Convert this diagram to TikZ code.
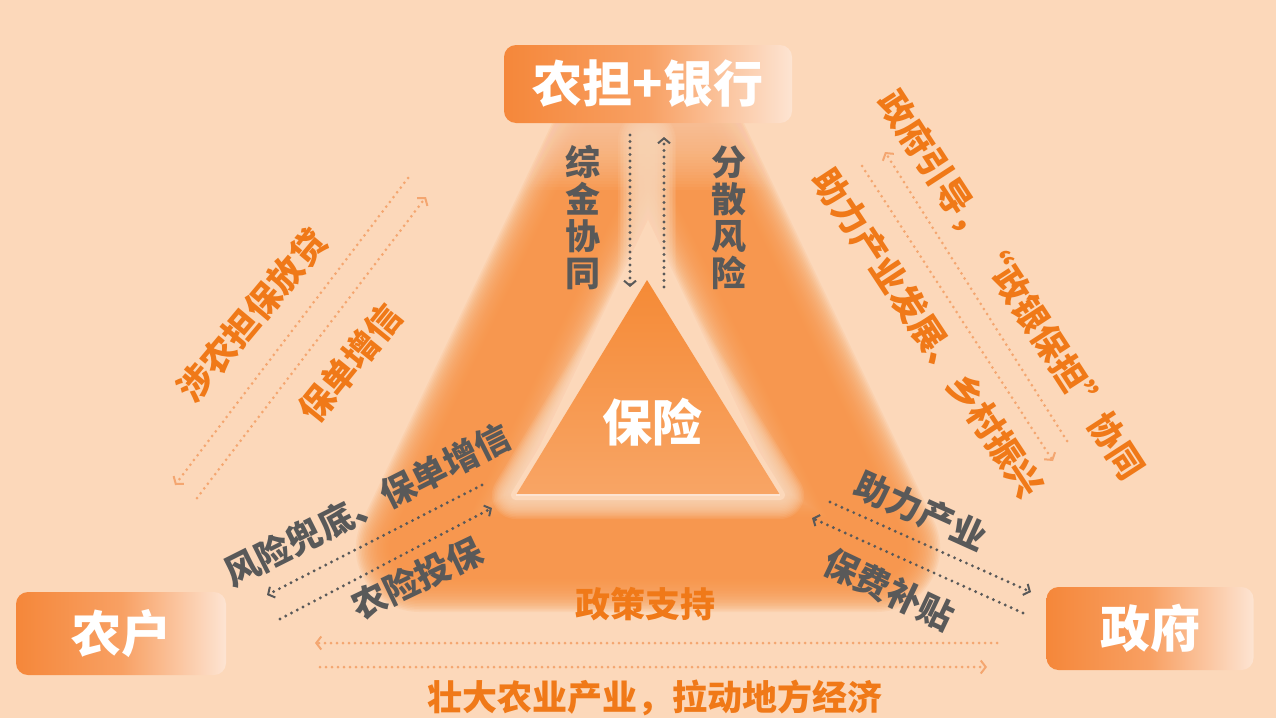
\documentclass[tikz,border=0pt]{standalone}
\usepackage{fontspec}
\newfontfamily\cjk{Noto Sans CJK SC}
\usetikzlibrary{arrows.meta}
\definecolor{bgc}{HTML}{FCD8BA}
\definecolor{bandc}{HTML}{F7964A}
\definecolor{oratext}{HTML}{F07918}
\definecolor{oradot}{HTML}{F4A670}
\definecolor{greyc}{HTML}{595959}
\definecolor{boxL}{HTML}{F5873A}
\definecolor{boxM}{HTML}{F8A063}
\definecolor{boxR}{HTML}{FDE4D2}
\definecolor{triT}{HTML}{F58A36}
\definecolor{triB}{HTML}{F8A565}
\begin{document}
\begin{tikzpicture}[x=1pt,y=-1pt,
  boxnode/.style={rounded corners=12pt, left color=boxL, right color=boxR, middle color=boxM, draw=none, inner sep=0pt},
  whitetext/.style={text=white, font=\cjk\bfseries\fontsize{50}{50}\selectfont},
  oralabel/.style={text=oratext, font=\cjk\bfseries\fontsize{35}{37}\selectfont, inner sep=0pt},
  greylabel/.style={text=greyc, font=\cjk\bfseries\fontsize{35}{37}\selectfont, inner sep=0pt, align=center},
  greyarrow/.style={draw=greyc, line width=3.2pt, dash pattern=on 0pt off 6.5pt, line cap=round,
     -{Straight Barb[length=5pt,width=12pt,line width=2pt]}},
  oraarrow/.style={draw=oradot, line width=3pt, dash pattern=on 0pt off 6pt, line cap=round,
     -{Straight Barb[length=5pt,width=13pt,line width=2pt]}},
  bandstroke/.style={draw=bandc, line cap=round, line join=round, opacity=0.1},
  halostroke/.style={draw=bgc, line cap=round, line join=round, opacity=0.12}
]
\useasboundingbox (0,0) rectangle (1276,718);
\fill[bgc] (0,0) rectangle (1276,718);

% blurred band
\coordinate (bl) at (420,548);
\coordinate (br) at (876,548);
\coordinate (lt) at (615,140);
\coordinate (rt) at (681,140);
\foreach \w in {62,65,...,128} \draw[bandstroke, line width=\w pt] (lt)--(bl)--(br)--(rt);
% smooth fade towards the top
\foreach \i in {0,...,24} \fill[bgc, opacity=0.05] (470,110) rectangle (830,{118+3*\i});

% light column between the vertical arrows
\coordinate (c1) at (647,140);
\coordinate (c2) at (647,285);
\foreach \w in {16,19,...,58} \draw[halostroke, line width=\w pt] (c1)--(c2);

% inner triangle with halo
\coordinate (ta) at (647,280);
\coordinate (tl) at (516,495);
\coordinate (tr) at (780,495);
\foreach \w in {12,15,...,50} \draw[halostroke, line width=\w pt] (ta)--(tl)--(tr)--cycle;
\draw[bgc, line width=10pt, line join=round] (ta)--(tl)--(tr)--cycle;
\shade[top color=triT, bottom color=triB] (ta)--(tl)--(tr)--cycle;
\draw[boxR, line width=2pt] (tl)--(tr);
\node[whitetext] (ins) at (652,422) {保险};

% boxes
\node[boxnode, whitetext, minimum width=288pt, minimum height=78pt] (bank) at (648,84) {农担+银行};
\node[boxnode, whitetext, minimum width=210pt, minimum height=83pt] (farmer) at (121,633.5) {农户};
\node[boxnode, whitetext, minimum width=207pt, minimum height=83pt] (gov) at (1150,628.5) {政府};

% vertical arrows
\coordinate (va1) at (630,135); \coordinate (va2) at (630,287);
\coordinate (vb1) at (664,287); \coordinate (vb2) at (664,137);
\draw[greyarrow] (va1) -- (va2);
\draw[greyarrow] (vb1) -- (vb2);
\node[greylabel] (zjxt) at (583,218) {综\\金\\协\\同};
\node[greylabel] (fsfx) at (729,218) {分\\散\\风\\险};

% left orange
\coordinate (la1) at (408,178); \coordinate (la2) at (175,485);
\coordinate (lb1) at (197,498); \coordinate (lb2) at (426,197);
\draw[oraarrow] (la1) -- (la2);
\draw[oraarrow] (lb1) -- (lb2);
\node[oralabel, rotate=50] (snd) at (252,315) {涉农担保放贷};
\node[oralabel, rotate=51] (bdzx) at (350,363) {保单增信};

% left grey
\coordinate (lc1) at (482,485); \coordinate (lc2) at (267,595);
\coordinate (ld1) at (280,619); \coordinate (ld2) at (492,508);
\draw[greyarrow] (lc1) -- (lc2);
\draw[greyarrow] (ld1) -- (ld2);
\node[greylabel, rotate=26.7] (fxdd) at (367,505) {风险兜底、保单增信};
\node[greylabel, rotate=25.5] (nxtb) at (417,578) {农险投保};

% right orange
\coordinate (re1) at (1067,441); \coordinate (re2) at (885,152);
\coordinate (rf1) at (862,166); \coordinate (rf2) at (1053,461);
\draw[oraarrow] (re1) -- (re2);
\draw[oraarrow] (rf1) -- (rf2);
\node[oralabel, rotate=-57] (zfyd) at (1011,285) {政府引导，“政银保担”协同};
\node[oralabel, rotate=-56.6] (zlfz) at (928,333) {助力产业发展、乡村振兴};

% right grey
\coordinate (rg1) at (830,502); \coordinate (rg2) at (1031,592);
\coordinate (rh1) at (1023,613); \coordinate (rh2) at (812,518);
\draw[greyarrow] (rg1) -- (rg2);
\draw[greyarrow] (rh1) -- (rh2);
\node[greylabel, rotate=-24.3] (zlcy) at (921,511) {助力产业};
\node[greylabel, rotate=-25.4] (bfbt) at (889,589) {保费补贴};

% bottom
\coordinate (bi1) at (997,643); \coordinate (bi2) at (315,643);
\coordinate (bj1) at (320,667); \coordinate (bj2) at (987,667);
\draw[oraarrow] (bi1) -- (bi2);
\draw[oraarrow] (bj1) -- (bj2);
\node[oralabel] (zczc) at (645,604) {政策支持};
\node[oralabel] (zdny) at (655,698) {壮大农业产业，拉动地方经济};
\end{tikzpicture}
\end{document}
